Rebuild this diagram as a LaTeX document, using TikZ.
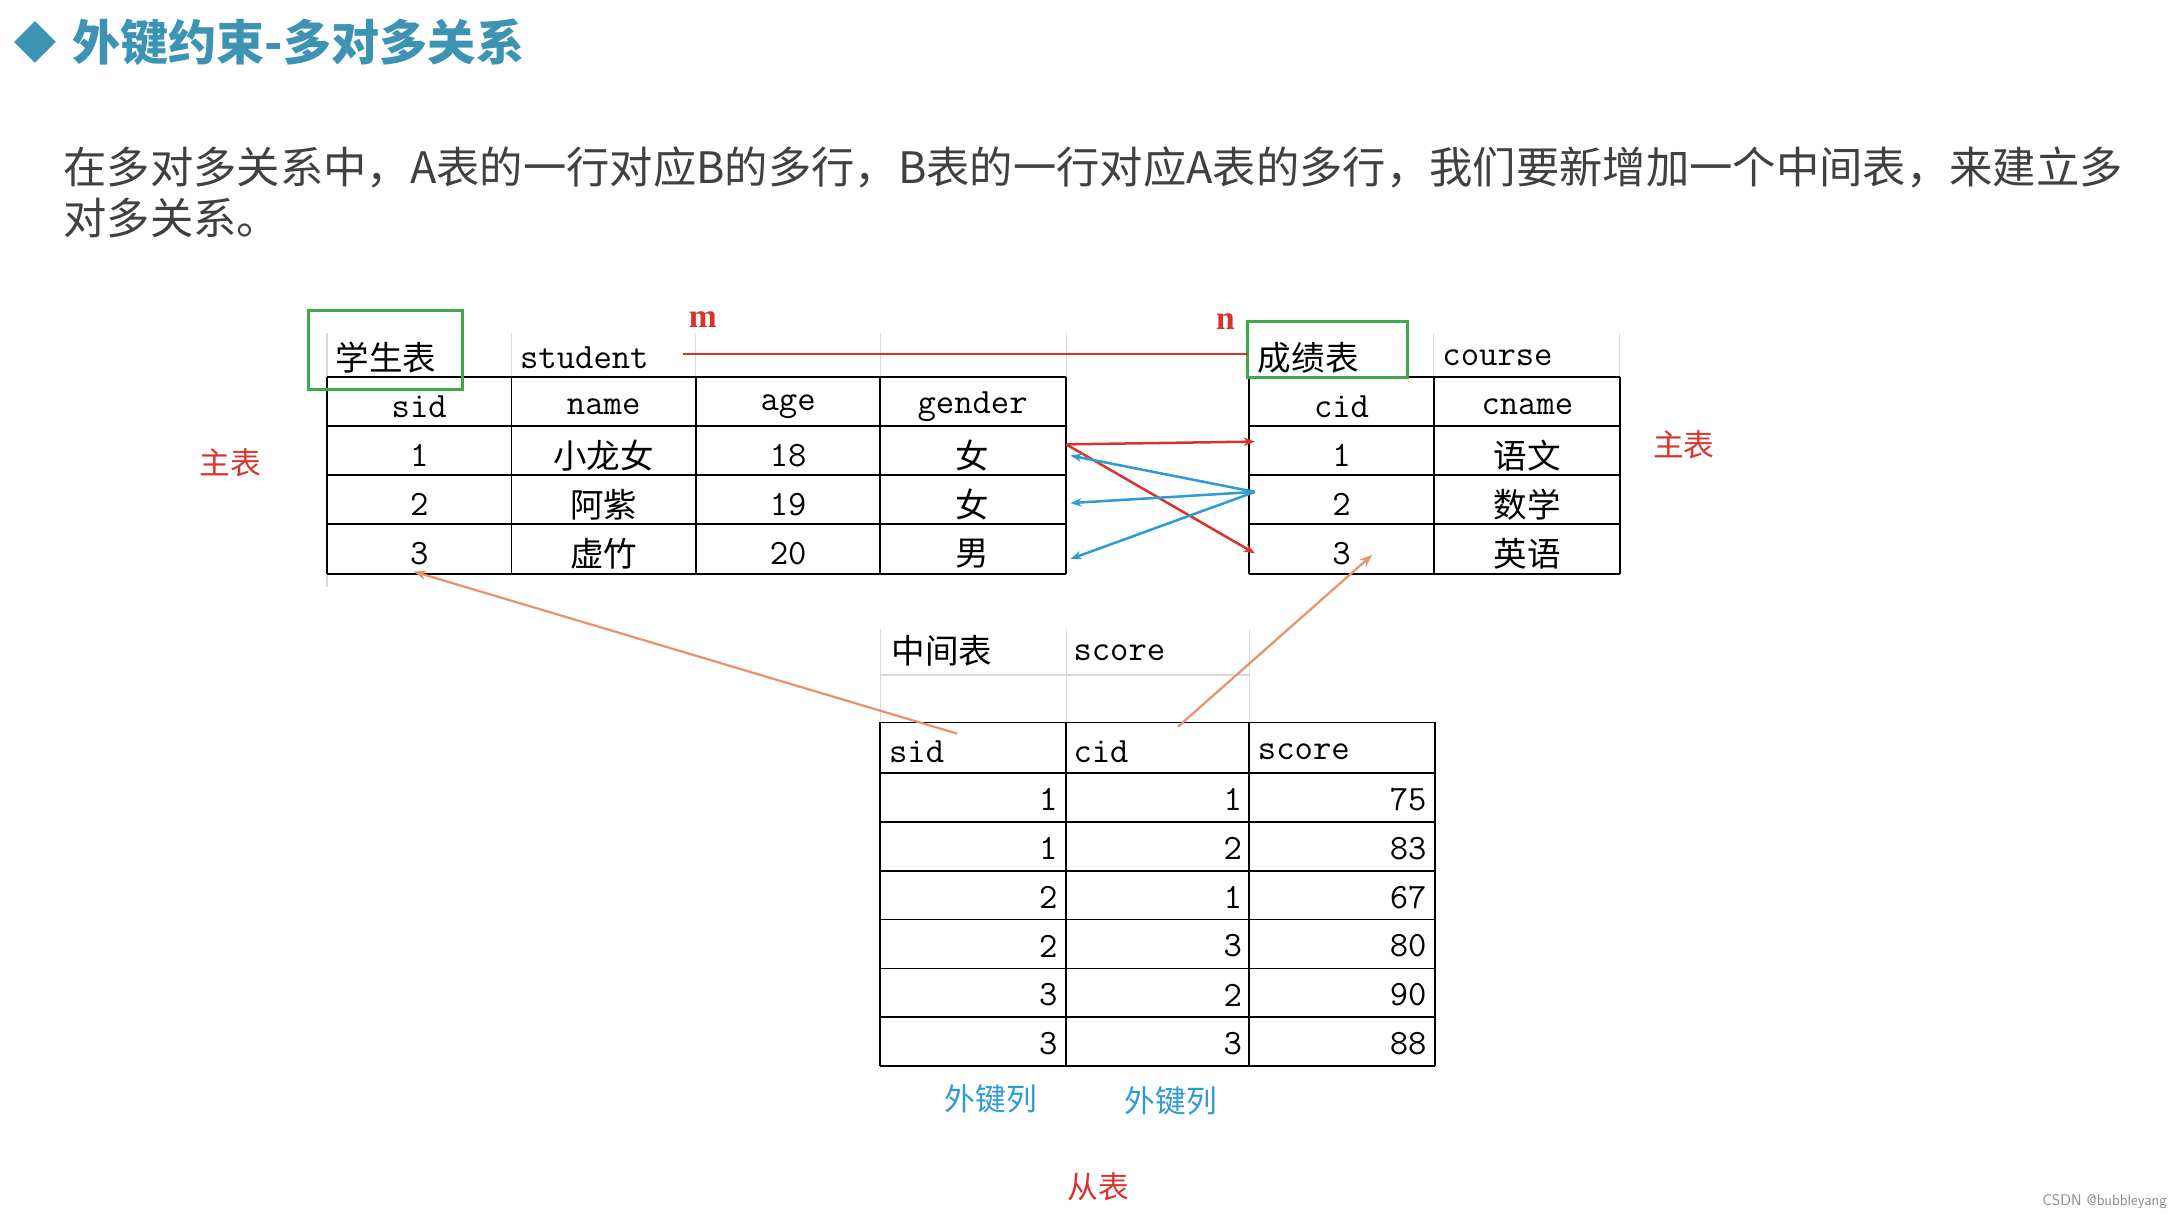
\documentclass[tikz,border=0pt]{standalone}
\usepackage{fontspec}
\setmainfont{Noto Sans CJK SC}
\newfontfamily\cjk{Noto Sans CJK SC}
\newfontfamily\serifb{Liberation Serif}
\setmonofont{Latin Modern Mono}
\usetikzlibrary{arrows.meta,shapes.geometric}
\definecolor{teal1}{HTML}{3C93B4}
\definecolor{redc}{HTML}{D9342B}
\definecolor{bluec}{HTML}{2E9BD6}
\definecolor{orc}{HTML}{E8946A}
\definecolor{grn}{HTML}{3DAA4B}
\tikzset{
 grid/.style={draw=black,line width=1.3pt},
 faint/.style={draw=black!15,line width=0.8pt},
 cell/.style={font=\fontsize{25.5}{25.5}\selectfont\ttfamily,inner sep=0pt},
 ccell/.style={font=\fontsize{24}{24}\selectfont\cjk,inner sep=0pt},
 lbl/.style={font=\fontsize{22}{22}\selectfont\cjk,inner sep=0pt},
 rarr/.style={draw=redc,line width=1.8pt,-{Stealth[length=8pt]}},
 barr/.style={draw=bluec,line width=1.8pt,-{Stealth[length=8pt]}},
 oarr/.style={draw=orc,line width=1.6pt,-{Stealth[length=9pt]}},
}
\begin{document}
\begin{tikzpicture}[x=1pt,y=-1pt]
\useasboundingbox[fill=white] (0,0) rectangle (1560,868.7);
% title
\node[diamond,fill=teal1,minimum width=30,minimum height=30,inner sep=0] (dia) at (25,30) {};
\node[anchor=west,text=teal1,font=\fontsize{34.5}{34.5}\selectfont\bfseries\cjk] (title) at (48,30) {外键约束-多对多关系};
\node[anchor=west,text=black!75,font=\fontsize{31}{31}\selectfont\cjk] (p1) at (42,120) {在多对多关系中，A表的一行对应B的多行，B表的一行对应A表的多行，我们要新增加一个中间表，来建立多};
\node[anchor=west,text=black!75,font=\fontsize{31}{31}\selectfont\cjk] (p2) at (42,156) {对多关系。};
% faint grids
\foreach \x in {234,366,498,630,763} \draw[faint] (\x,238) -- (\x,272);
\foreach \x in {1026,1159} \draw[faint] (\x,238) -- (\x,272);
\foreach \x in {630,763,894} \draw[faint] (\x,450) -- (\x,517);
\draw[faint] (630,483) -- (894,483);
\draw[faint] (234,411) -- (234,420);
% student table
\foreach \y in {270,305,340,375,411} \draw[grid] (234,\y) -- (763,\y);
\foreach \x in {234,366,498,630,763} \draw[grid] (\x,270) -- (\x,411);
\node[ccell,anchor=west] (stn) at (240,256) {学生表};
\node[cell,anchor=west] (sten) at (372,256) {student};
\draw[grn,line width=2.2pt] (221,222) rectangle (331,279);
\node[cell] (s01) at (300,291) {sid};
\node[cell] (s02) at (432,291) {name};
\node[cell] (s03) at (564,291) {age};
\node[cell] (s04) at (696,291) {gender};
\node[cell] (s11) at (300,326) {1};
\node[ccell] (s12) at (432,326) {小龙女};
\node[cell] (s13) at (564,326) {18};
\node[ccell] (s14) at (696,326) {女};
\node[cell] (s21) at (300,361) {2};
\node[ccell] (s22) at (432,361) {阿紫};
\node[cell] (s23) at (564,361) {19};
\node[ccell] (s24) at (696,361) {女};
\node[cell] (s31) at (300,396) {3};
\node[ccell] (s32) at (432,396) {虚竹};
\node[cell] (s33) at (564,396) {20};
\node[ccell] (s34) at (696,396) {男};
% course table
\foreach \y in {270,305,340,375,411} \draw[grid] (894,\y) -- (1159,\y);
\foreach \x in {894,1026,1159} \draw[grid] (\x,270) -- (\x,411);
\node[ccell,anchor=west] (ctn) at (900,256) {成绩表};
\node[cell,anchor=west] (cten) at (1032,256) {course};
\draw[grn,line width=2.2pt] (893,230) rectangle (1007,270);
\node[cell] (c01) at (960,291) {cid};
\node[cell] (c02) at (1093,291) {cname};
\node[cell] (c11) at (960,326) {1};
\node[ccell] (c12) at (1093,326) {语文};
\node[cell] (c21) at (960,361) {2};
\node[ccell] (c22) at (1093,361) {数学};
\node[cell] (c31) at (960,396) {3};
\node[ccell] (c32) at (1093,396) {英语};
% m n
\node[text=redc,font=\fontsize{24}{24}\selectfont\bfseries\serifb] (m) at (503,229) {m};
\node[text=redc,font=\fontsize{24}{24}\selectfont\bfseries\serifb] (n) at (877,230) {n};
\draw[redc,line width=1.5pt] (489,253) -- (893,253);
\node[lbl,text=redc] (zb1) at (165,331) {主表};
\node[lbl,text=redc] (zb2) at (1205,318) {主表};
% relation arrows
\coordinate (L1) at (763,318); \coordinate (L1b) at (766,326);
\coordinate (L2) at (766,360); \coordinate (L3) at (766,400);
\coordinate (R1) at (898,316); \coordinate (R2) at (898,352); \coordinate (R3) at (898,396);
\draw[rarr] (L1) -- (R1);
\draw[rarr] (L1) -- (R3);
\draw[barr] (R2) -- (L1b);
\draw[barr] (R2) -- (L2);
\draw[barr] (R2) -- (L3);
% score table
\node[ccell,anchor=west] (sctn) at (638,466) {中间表};
\node[cell,anchor=west] (scen) at (768,467) {score};
\foreach \y in {517,553,588,623,658,693,728,763} \draw[grid] (630,\y) -- (1027,\y);
\foreach \x in {630,763,894,1027} \draw[grid] (\x,517) -- (\x,763);
\node[cell,anchor=west] (h1) at (636,538) {sid};
\node[cell,anchor=west] (h2) at (768,538) {cid};
\node[cell,anchor=west] (h3) at (900,538) {score};
\foreach \a/\b/\c [count=\i] in {1/1/75,1/2/83,2/1/67,2/3/80,3/2/90,3/3/88}{
  \node[cell,anchor=east] (r\i a) at (757,537+35*\i) {\a};
  \node[cell,anchor=east] (r\i b) at (889,537+35*\i) {\b};
  \node[cell,anchor=east] (r\i c) at (1021,537+35*\i) {\c};
}
% fk arrows
\coordinate (o1s) at (685,525); \coordinate (o1e) at (296,409);
\coordinate (o2s) at (843,520); \coordinate (o2e) at (982,397);
\draw[oarr] (o1s) -- (o1e);
\draw[oarr] (o2s) -- (o2e);
\node[lbl,text=bluec] (fk1) at (709,786) {外键列};
\node[lbl,text=bluec] (fk2) at (838,788) {外键列};
\node[lbl,text=redc] (cb) at (786,849) {从表};
\node[text=black!45,font=\fontsize{11}{11}\selectfont\sffamily] (csdn) at (1506,860) {CSDN @bubbleyang};
\end{tikzpicture}
\end{document}
